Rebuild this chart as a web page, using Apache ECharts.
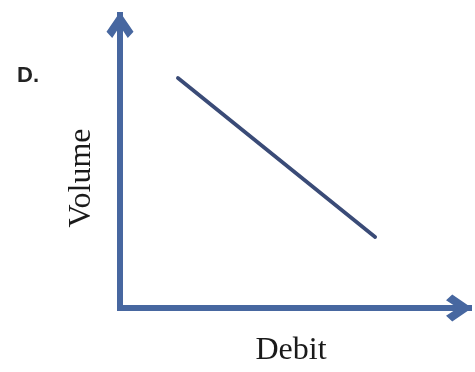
<!DOCTYPE html>
<html>
<head>
<meta charset="utf-8">
<script src="https://cdn.jsdelivr.net/npm/echarts@6/dist/echarts.min.js"></script>
<style>
  html, body { margin: 0; padding: 0; background: #ffffff; }
  #chart { width: 475px; height: 372px; }
</style>
</head>
<body>
<div id="chart"></div>
<script>
// Sketch D: volume falls as debit rises
const debit = [16.6, 73.1];
const volume = [78.5, 24.2];
const xTitle = 'Debit';
const yTitle = 'Volume';
const panelTag = 'D.';

const axisBlue = '#4767a0';
const lineBlue = '#3a4b77';
// open chevron arrow head, pointing up in its own frame
const chevron = 'path://M13 0 L26 19 L20.5 25 L13 13.5 L5.5 25 L0 19 Z';

const points = debit.map((d, i) => [d, volume[i]]);

const axisLine = {
  show: true,
  onZero: true,
  symbol: ['none', chevron],
  symbolSize: [27, 26],
  symbolOffset: [0, -10],
  lineStyle: { color: axisBlue, width: 6, cap: 'square' }
};

const chart = echarts.init(document.getElementById('chart'), null, { renderer: 'canvas' });
chart.setOption({
  animation: false,
  backgroundColor: '#ffffff',
  grid: { left: 120, right: 6, top: 15, bottom: 64 },
  xAxis: {
    type: 'value', min: 0, max: 100,
    axisLine: axisLine,
    axisTick: { show: false }, axisLabel: { show: false }, splitLine: { show: false }
  },
  yAxis: {
    type: 'value', min: 0, max: 100,
    axisLine: axisLine,
    axisTick: { show: false }, axisLabel: { show: false }, splitLine: { show: false }
  },
  series: [{
    type: 'line',
    data: points,
    showSymbol: false,
    silent: true,
    lineStyle: { color: lineBlue, width: 3.8, cap: 'round' }
  }],
  graphic: [
    {
      type: 'text', x: 291, y: 351,
      style: { text: xTitle, font: '32px "Liberation Serif", "Times New Roman", serif', fill: '#1a1a1a', align: 'center', verticalAlign: 'middle' }
    },
    {
      type: 'text', x: 82, y: 178, rotation: Math.PI / 2,
      style: { text: yTitle, font: '32px "Liberation Serif", "Times New Roman", serif', fill: '#1a1a1a', align: 'center', verticalAlign: 'middle' }
    },
    {
      type: 'text', x: 17, y: 76,
      style: { text: panelTag, font: 'bold 22px "Liberation Sans", Arial, sans-serif', fill: '#222222', align: 'left', verticalAlign: 'middle' }
    }
  ]
});
</script>
</body>
</html>
